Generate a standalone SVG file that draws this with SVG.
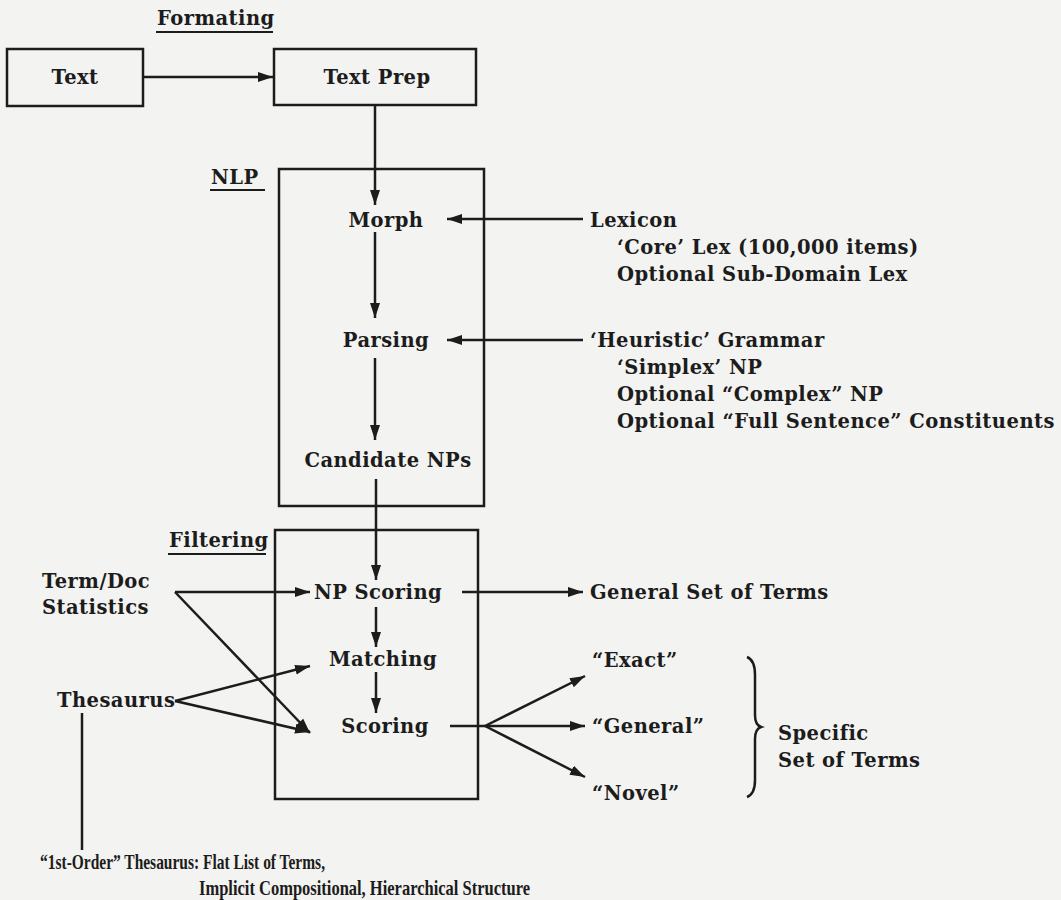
<svg xmlns="http://www.w3.org/2000/svg" width="1061" height="900" viewBox="0 0 1061 900">
<defs>
<style>
.t{font-family:"DejaVu Serif","Liberation Serif",serif;font-weight:bold;font-size:19.5px;letter-spacing:0.45px;fill:#1c1c1c}
.c{font-family:"Liberation Serif","DejaVu Serif",serif;font-weight:bold;font-size:22px;fill:#1c1c1c}
.box{fill:none;stroke:#1c1c1c;stroke-width:2.5}
.ln{fill:none;stroke:#1c1c1c;stroke-width:2.5}
.u{stroke:#1c1c1c;stroke-width:2}
</style>
<marker id="ah" markerUnits="userSpaceOnUse" markerWidth="16" markerHeight="12" refX="15" refY="6" orient="auto">
<path d="M0,1 L15,6 L0,11 Z" fill="#1c1c1c"/>
</marker>
</defs>
<rect width="1061" height="900" fill="#f3f3f1"/>

<g id="label-formating">
<text class="t" x="157" y="25">Formating</text>
<line class="u" x1="156" y1="32" x2="273" y2="32"/>
</g>
<g id="node-text">
<rect class="box" x="7" y="49" width="136" height="57"/>
<text class="t" x="75" y="84" text-anchor="middle">Text</text>
</g>
<g id="node-textprep">
<rect class="box" x="274" y="49" width="202" height="56"/>
<text class="t" x="377" y="84" text-anchor="middle">Text Prep</text>
</g>

<g id="group-nlp">
<rect class="box" x="279" y="169" width="205" height="337"/>
<text class="t" x="211" y="184">NLP</text>
<line class="u" x1="210" y1="190" x2="265" y2="190"/>
</g>
<g id="node-morph"><text class="t" x="386" y="227" text-anchor="middle">Morph</text></g>
<g id="node-parsing"><text class="t" x="386" y="347" text-anchor="middle">Parsing</text></g>
<g id="node-candidate"><text class="t" x="388" y="467" text-anchor="middle">Candidate NPs</text></g>

<g id="node-lexicon">
<text class="t" x="590" y="227">Lexicon</text>
<text class="t" x="617" y="254">‘Core’ Lex (100,000 items)</text>
<text class="t" x="617" y="281">Optional Sub-Domain Lex</text>
</g>
<g id="node-grammar">
<text class="t" x="590" y="347">‘Heuristic’ Grammar</text>
<text class="t" x="617" y="374">‘Simplex’ NP</text>
<text class="t" x="617" y="401">Optional “Complex” NP</text>
<text class="t" x="617" y="428" textLength="438" lengthAdjust="spacing">Optional “Full Sentence” Constituents</text>
</g>

<g id="group-filtering">
<rect class="box" x="275" y="530" width="203" height="269"/>
<text class="t" x="169" y="547">Filtering</text>
<line class="u" x1="168" y1="554" x2="266" y2="554"/>
</g>
<g id="node-npscoring"><text class="t" x="378" y="599" text-anchor="middle">NP Scoring</text></g>
<g id="node-matching"><text class="t" x="383" y="666" text-anchor="middle">Matching</text></g>
<g id="node-scoring"><text class="t" x="385" y="733" text-anchor="middle">Scoring</text></g>

<g id="node-termdoc">
<text class="t" x="42" y="588">Term/Doc</text>
<text class="t" x="42" y="614">Statistics</text>
</g>
<g id="node-thesaurus"><text class="t" x="57" y="707">Thesaurus</text></g>

<g id="node-general-set"><text class="t" x="590" y="599">General Set of Terms</text></g>
<g id="node-exact"><text class="t" x="592" y="667">“Exact”</text></g>
<g id="node-general"><text class="t" x="592" y="733">“General”</text></g>
<g id="node-novel"><text class="t" x="592" y="800">“Novel”</text></g>
<g id="node-specific">
<path class="ln" d="M747,657 Q755,660 755,675 L755,715 Q755,725 761,727 Q755,729 755,739 L755,780 Q755,794 747,797" stroke-width="2"/>
<text class="t" x="778" y="740">Specific</text>
<text class="t" x="778" y="767">Set of Terms</text>
</g>

<g id="node-firstorder">
<text class="c" x="40" y="869" textLength="285" lengthAdjust="spacingAndGlyphs">“1st-Order” Thesaurus: Flat List of Terms,</text>
<text class="c" x="199" y="895" textLength="331" lengthAdjust="spacingAndGlyphs">Implicit Compositional, Hierarchical Structure</text>
</g>

<g id="connectors">
<line class="ln" x1="143" y1="77" x2="273" y2="77" marker-end="url(#ah)"/>
<line class="ln" x1="375" y1="105" x2="375" y2="205" marker-end="url(#ah)"/>
<line class="ln" x1="375" y1="232" x2="375" y2="318" marker-end="url(#ah)"/>
<line class="ln" x1="375" y1="358" x2="375" y2="440" marker-end="url(#ah)"/>
<line class="ln" x1="376" y1="479" x2="376" y2="580" marker-end="url(#ah)"/>
<line class="ln" x1="583" y1="219" x2="447" y2="219" marker-end="url(#ah)"/>
<line class="ln" x1="583" y1="340" x2="447" y2="340" marker-end="url(#ah)"/>
<line class="ln" x1="175" y1="592" x2="310" y2="592" marker-end="url(#ah)"/>
<line class="ln" x1="175" y1="592" x2="310" y2="733" marker-end="url(#ah)"/>
<line class="ln" x1="376" y1="607" x2="376" y2="647" marker-end="url(#ah)"/>
<line class="ln" x1="376" y1="672" x2="376" y2="713" marker-end="url(#ah)"/>
<line class="ln" x1="175" y1="701" x2="310" y2="666" marker-end="url(#ah)"/>
<line class="ln" x1="175" y1="701" x2="310" y2="732" marker-end="url(#ah)"/>
<line class="ln" x1="82" y1="713" x2="82" y2="850" stroke-width="2"/>
<line class="ln" x1="462" y1="592" x2="583" y2="592" marker-end="url(#ah)"/>
<line class="ln" x1="450" y1="726" x2="485" y2="726"/>
<line class="ln" x1="485" y1="726" x2="585" y2="676" marker-end="url(#ah)"/>
<line class="ln" x1="485" y1="726" x2="585" y2="726" marker-end="url(#ah)"/>
<line class="ln" x1="485" y1="726" x2="585" y2="777" marker-end="url(#ah)"/>
</g>
</svg>
